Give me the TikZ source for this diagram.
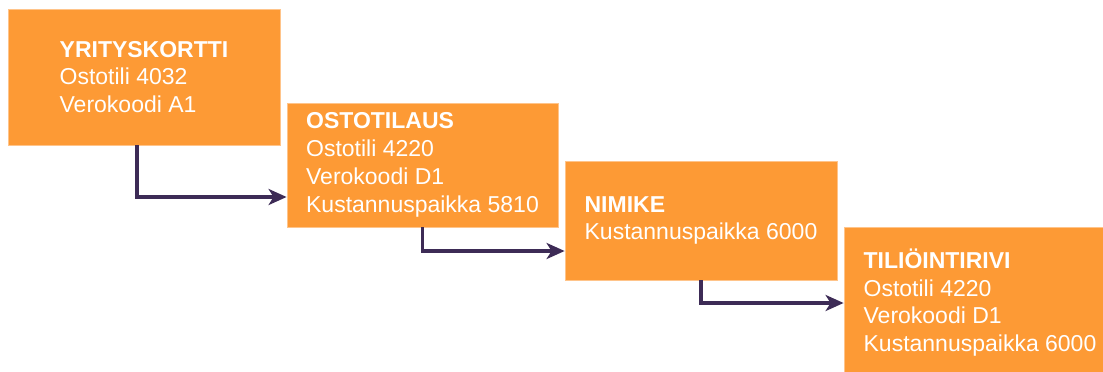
\documentclass[tikz,border=0pt]{standalone}
\usepackage{fontspec}
\setmainfont{Liberation Sans}
\usetikzlibrary{arrows.meta}
\definecolor{boxfill}{HTML}{FD9A35}
\definecolor{boxedge}{HTML}{FFC48A}
\definecolor{linkline}{HTML}{3D2B56}
\begin{document}
\begin{tikzpicture}[x=1pt,y=-1pt,
  card/.style={rectangle, fill=boxfill, draw=boxedge, line width=0.8pt,
    align=left, text=white, inner sep=0pt,
    font=\fontsize{23}{27.8}\selectfont},
  conn/.style={draw=linkline, line width=3.4pt,
    -{Stealth[length=18pt,width=16pt,inset=5pt]}}]
\useasboundingbox (0,0) rectangle (1103,372);
\fill[white] (0,0) rectangle (1103,372);

\node[card, minimum width=272pt, minimum height=136pt] (card1) at (144,77)
  {\textbf{YRITYSKORTTI}\\Ostotili 4032\\Verokoodi A1};
\node[card, minimum width=271pt, minimum height=124pt] (card2) at (422.5,165)
  {\textbf{OSTOTILAUS}\\Ostotili 4220\\Verokoodi D1\\Kustannuspaikka 5810};
\node[card, minimum width=272pt, minimum height=119pt] (card3) at (701,220.5)
  {\textbf{NIMIKE}\\Kustannuspaikka 6000};
\node[card, minimum width=272pt, minimum height=150pt] (card4) at (980,302.5)
  {\textbf{TILIÖINTIRIVI}\\Ostotili 4220\\Verokoodi D1\\Kustannuspaikka 6000};

\draw[conn] ([xshift=-7pt]card1.south) |- ([yshift=-32pt]card2.west);
\draw[conn] (card2.south) |- ([yshift=-30.5pt]card3.west);
\draw[conn] (card3.south) |- ([yshift=-0.5pt]card4.west);
\end{tikzpicture}
\end{document}
